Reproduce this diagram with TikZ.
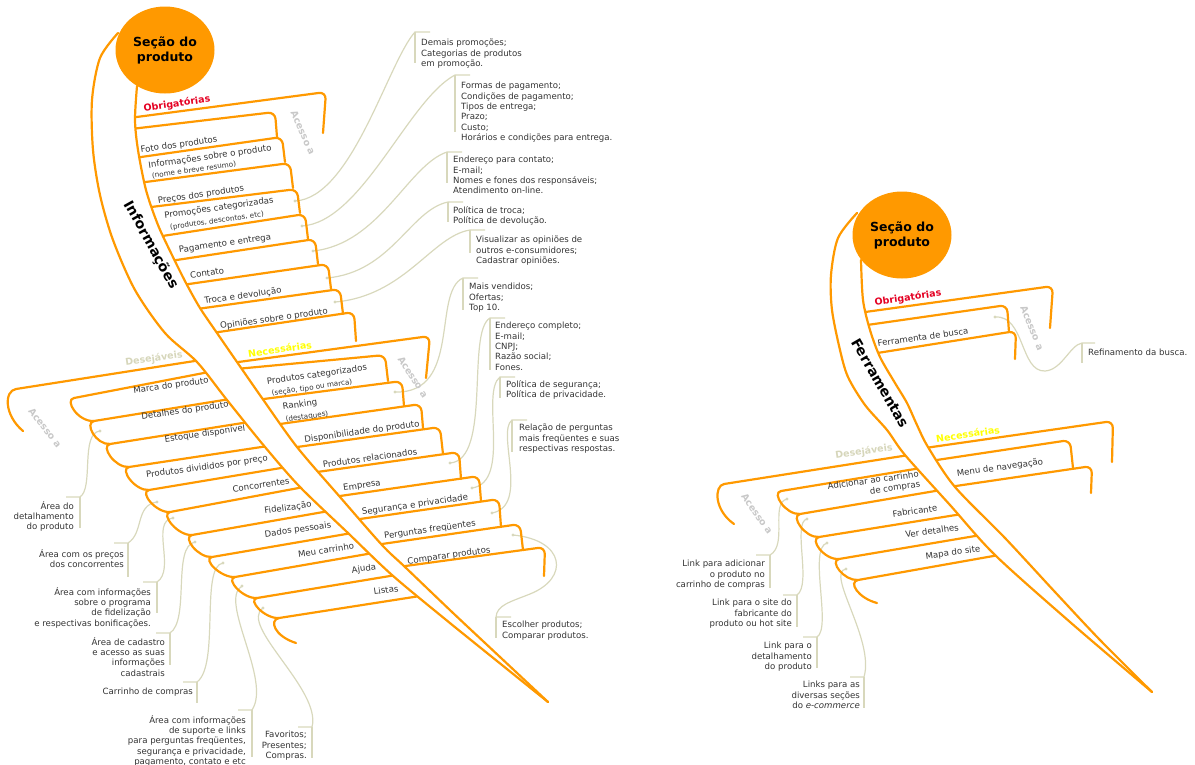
\documentclass[tikz,border=0pt]{standalone}
\usepackage{fontspec}
\setmainfont{DejaVu Sans}
\usepackage{tikz}
\usetikzlibrary{shapes.geometric}

\definecolor{laranja}{RGB}{255,153,0}
\definecolor{fiocor}{RGB}{216,216,188}
\definecolor{textocor}{RGB}{51,51,51}
\definecolor{obrigcor}{RGB}{228,0,34}
\definecolor{necescor}{RGB}{255,255,0}
\definecolor{desejcor}{RGB}{214,214,186}
\definecolor{acessocor}{RGB}{200,200,200}

\tikzset{
  secao/.style={ellipse, fill=laranja, minimum width=99pt, minimum height=87pt, inner sep=0pt, align=center, font=\fontsize{12.5}{15}\selectfont\bfseries},
  tronco/.style={draw=laranja, line width=2.2pt, line cap=round},
  ramo/.style={tronco, rounded corners=7pt},
  fio/.style={draw=fiocor, line width=1.2pt},
  ponto/.style={fill=fiocor},
  tema/.style={font=\fontsize{14}{16}\selectfont\bfseries, inner sep=0pt},
  grupo/.style={font=\fontsize{9.5}{11}\selectfont\bfseries, inner sep=0pt, rotate=8},
  acesso/.style={text=acessocor, font=\fontsize{9.5}{11}\selectfont\bfseries, inner sep=0pt},
  item/.style={text=textocor, font=\fontsize{8.6}{10.4}\selectfont, inner sep=0pt, rotate=8},
  subitem/.style={text=textocor, font=\fontsize{7.2}{8.5}\selectfont, inner sep=0pt, rotate=8},
  nota/.style={text=textocor, font=\fontsize{8.6}{10.4}\selectfont, inner sep=0pt, align=left, anchor=north west},
  notae/.style={nota, align=right, anchor=north east}
}

\begin{document}
\begin{tikzpicture}[x=1pt,y=-1pt]
\useasboundingbox (0,0) rectangle (1195,764);

\coordinate (p1) at (295,201);
\coordinate (p2) at (302,226);
\coordinate (p3) at (313,251);
\coordinate (p4) at (327,278);
\coordinate (p5) at (335,302);
\coordinate (p6) at (395,392);
\coordinate (p7) at (450,463);
\coordinate (p8) at (472,488);
\coordinate (p9) at (492,513);
\coordinate (p10) at (513,535);
\coordinate (p11) at (100,431);
\coordinate (p12) at (157,502);
\coordinate (p13) at (173,518);
\coordinate (p14) at (195,542);
\coordinate (p15) at (223,563);
\coordinate (p16) at (242,586);
\coordinate (p17) at (263,608);
\coordinate (p18) at (995,317);
\coordinate (p19) at (787,499);
\coordinate (p20) at (807,519);
\coordinate (p21) at (827,543);
\coordinate (p22) at (846,569);

\coordinate (t1) at (415,32);
\coordinate (t2) at (455,75);
\coordinate (t3) at (447,152);
\coordinate (t4) at (448,202);
\coordinate (t5) at (470,230);
\coordinate (t6) at (463,278);
\coordinate (t7) at (490,318);
\coordinate (t8) at (500,377);
\coordinate (t9) at (512,420);
\coordinate (t10) at (496,617);
\coordinate (t11) at (80,497);
\coordinate (t12) at (128,543);
\coordinate (t13) at (157,582);
\coordinate (t14) at (170,633);
\coordinate (t15) at (197,682);
\coordinate (t16) at (252,710);
\coordinate (t17) at (312,727);
\coordinate (t18) at (1082,343);
\coordinate (t19) at (770,555);
\coordinate (t20) at (797,595);
\coordinate (t21) at (817,637);
\coordinate (t22) at (864,677);

\draw[fio] (p1) .. controls (352,198) and (388,62) .. (t1) -- (430,32);
\draw[fio] (p2) .. controls (362,222) and (408,100) .. (t2) -- (470,75);
\draw[fio] (p3) .. controls (380,244) and (408,165) .. (t3) -- (462,152);
\draw[fio] (p4) .. controls (392,272) and (410,210) .. (t4) -- (463,202);
\draw[fio] (p5) .. controls (405,296) and (432,236) .. (t5) -- (485,230);
\draw[fio] (p6) .. controls (462,394) and (432,292) .. (t6) -- (478,278);
\draw[fio] (p7) .. controls (492,460) and (466,332) .. (t7) -- (505,318);
\draw[fio] (p8) .. controls (512,482) and (480,392) .. (t8) -- (515,377);
\draw[fio] (p9) .. controls (530,506) and (496,432) .. (t9) -- (527,420);
\draw[fio] (p10) .. controls (565,540) and (570,578) .. (530,594) .. controls (510,602) and (497,605) .. (t10) -- (511,617);
\draw[fio] (p11) .. controls (80,433) and (94,488) .. (t11) -- (66,497);
\draw[fio] (p12) .. controls (135,505) and (144,533) .. (t12) -- (114,543);
\draw[fio] (p13) .. controls (150,521) and (176,570) .. (t13) -- (143,582);
\draw[fio] (p14) .. controls (172,546) and (190,620) .. (t14) -- (156,633);
\draw[fio] (p15) .. controls (200,566) and (220,665) .. (t15) -- (183,682);
\draw[fio] (p16) .. controls (218,600) and (272,680) .. (t16) -- (238,710);
\draw[fio] (p17) .. controls (238,625) and (322,690) .. (t17) -- (298,727);
\draw[fio] (p18) .. controls (1025,315) and (1020,372) .. (1045,371) .. controls (1062,370) and (1070,345) .. (t18) -- (1095,343);
\draw[fio] (p19) .. controls (770,503) and (788,545) .. (t19) -- (756,555);
\draw[fio] (p20) .. controls (792,522) and (812,585) .. (t20) -- (783,595);
\draw[fio] (p21) .. controls (808,548) and (832,628) .. (t21) -- (803,637);
\draw[fio] (p22) .. controls (825,572) and (875,640) .. (t22) -- (850,677);

\draw[fio] (t1) -- (415,63);
\draw[fio] (t2) -- (455,132);
\draw[fio] (t3) -- (447,183);
\draw[fio] (t4) -- (448,222);
\draw[fio] (t5) -- (470,253);
\draw[fio] (t6) -- (463,310);
\draw[fio] (t7) -- (490,370);
\draw[fio] (t8) -- (500,398);
\draw[fio] (t9) -- (512,452);
\draw[fio] (t10) -- (496,638);
\draw[fio] (t11) -- (80,528);
\draw[fio] (t12) -- (128,577);
\draw[fio] (t13) -- (157,613);
\draw[fio] (t14) -- (170,665);
\draw[fio] (t15) -- (197,703);
\draw[fio] (t16) -- (252,757);
\draw[fio] (t17) -- (312,758);
\draw[fio] (t18) -- (1082,363);
\draw[fio] (t19) -- (770,588);
\draw[fio] (t20) -- (797,627);
\draw[fio] (t21) -- (817,668);
\draw[fio] (t22) -- (864,708);

\foreach \n in {1,...,22}
  \fill[ponto] (p\n) circle (1.6pt);

\draw[ramo] (129,118) -- (326,92) -- (323,133);
\draw[ramo] (131,129) -- (275,112) -- (277,137);
\draw[ramo] (134,158) -- (282,137) -- (285,162);
\draw[ramo] (138,183) -- (290,163) -- (293,188);
\draw[ramo] (143,208) -- (297,189) -- (300,213);
\draw[ramo] (156,237) -- (305,214) -- (308,239);
\draw[ramo] (170,261) -- (315,239) -- (318,264);
\draw[ramo] (182,285) -- (328,264) -- (331,289);
\draw[ramo] (197,309) -- (340,289) -- (343,314);
\draw[ramo] (212,333) -- (354,312) -- (356,341);

\draw[ramo] (231,363) -- (430,336) -- (426,378);
\draw[ramo] (236,369) -- (385,355) -- (388,381);
\draw[ramo] (256,400) -- (402,381) -- (404,406);
\draw[ramo] (273,425) -- (421,404) -- (423,428);
\draw[ramo] (290,448) -- (440,427) -- (443,454);
\draw[ramo] (310,473) -- (459,452) -- (461,479);
\draw[ramo] (333,497) -- (479,476) -- (481,501);
\draw[ramo] (353,520) -- (499,499) -- (501,527);
\draw[ramo] (375,545) -- (520,524) -- (523,550);
\draw[ramo] (398,567) -- (545,547) -- (544,576);

\draw[tronco] (201,360) -- (16,389) .. controls (4,391) and (4,415) .. (23,431);
\draw[tronco] (209,372) -- (74,398) .. controls (64,400) and (78,422) .. (94,421);
\draw[tronco] (230,399) -- (94,421) .. controls (84,423) and (96,445) .. (110,444);
\draw[tronco] (249,422) -- (110,444) .. controls (100,446) and (115,468) .. (129,467);
\draw[tronco] (268,446) -- (129,467) .. controls (119,469) and (135,491) .. (149,490);
\draw[tronco] (287,467) -- (149,490) .. controls (139,492) and (156,513) .. (170,512);
\draw[tronco] (304,487) -- (170,512) .. controls (160,514) and (178,536) .. (192,535);
\draw[tronco] (329,511) -- (192,535) .. controls (182,537) and (198,558) .. (212,557);
\draw[tronco] (352,533) -- (212,557) .. controls (202,559) and (221,578) .. (235,577);
\draw[tronco] (373,553) -- (235,577) .. controls (225,579) and (243,599) .. (257,598);
\draw[tronco] (396,575) -- (257,598) .. controls (247,600) and (265,619) .. (279,618);
\draw[tronco] (420,596) -- (279,618) .. controls (269,620) and (274,636) .. (296,643);

\draw[ramo] (858,313) -- (1053,286) -- (1050,328);
\draw[ramo] (860,326) -- (1007,305) -- (1009,332);
\draw[ramo] (871,354) -- (1016,331) -- (1015,359);
\draw[ramo] (925,448) -- (1113,421) -- (1112,462);
\draw[ramo] (930,461) -- (1070,440) -- (1073,468);
\draw[ramo] (949,487) -- (1092,466) -- (1091,493);

\draw[tronco] (909,455) -- (724,484) .. controls (714,486) and (714,510) .. (734,524);
\draw[tronco] (921,468) -- (781,491) .. controls (771,493) and (786,515) .. (800,514);
\draw[tronco] (941,490) -- (800,514) .. controls (790,516) and (805,538) .. (819,537);
\draw[tronco] (962,514) -- (819,537) .. controls (809,539) and (824,560) .. (839,559);
\draw[tronco] (981,535) -- (839,559) .. controls (829,561) and (844,581) .. (858,580);
\draw[tronco] (999,555) -- (858,580) .. controls (848,582) and (858,598) .. (877,603);

\fill[white] plot[smooth] coordinates {(118,33) (100,58) (92,100) (93,150) (100,195) (113,240) (135,290) (165,333) (197,362) (227,400) (265,447) (300,487) (348,533) (392,575) (445,619) (497,661) (548,702)}
  -- plot[smooth] coordinates {(548,702) (500,657) (452,612) (405,567) (382,545) (340,497) (297,447) (262,398) (237,362) (217,333) (200,308) (186,283) (172,255) (158,225) (146,190) (138,150) (135,120) (137,86)} -- cycle;
\draw[tronco] plot[smooth] coordinates {(118,33) (100,58) (92,100) (93,150) (100,195) (113,240) (135,290) (165,333) (197,362) (227,400) (265,447) (300,487) (348,533) (392,575) (445,619) (497,661) (548,702)};
\draw[tronco] plot[smooth] coordinates {(137,86) (135,120) (138,150) (146,190) (158,225) (172,255) (186,283) (200,308) (217,333) (237,362) (262,398) (297,447) (340,497) (382,545) (405,567) (452,612) (500,657) (548,702)};

\fill[white] plot[smooth] coordinates {(857,213) (838,238) (831,275) (832,310) (840,350) (848,377) (865,405) (887,430) (905,455) (950,505) (995,555) (1070,622) (1152,692)}
  -- plot[smooth] coordinates {(1152,692) (1100,640) (1055,592) (1005,538) (955,487) (928,447) (917,425) (907,403) (895,383) (880,357) (870,330) (863,300) (861,260)} -- cycle;
\draw[tronco] plot[smooth] coordinates {(857,213) (838,238) (831,275) (832,310) (840,350) (848,377) (865,405) (887,430) (905,455) (950,505) (995,555) (1070,622) (1152,692)};
\draw[tronco] plot[smooth] coordinates {(861,260) (863,300) (870,330) (880,357) (895,383) (907,403) (917,425) (928,447) (955,487) (1005,538) (1055,592) (1100,640) (1152,692)};

\node[secao] (sec1) at (165,50) {Seção do\\produto};
\node[secao] (sec2) at (902,235) {Seção do\\produto};

\node[tema, rotate=-61] (info) at (151,245) {Informações};
\node[tema, rotate=-60] (ferr) at (880,383) {Ferramentas};

\node[grupo, text=obrigcor] (obr1) at (177,104) {Obrigatórias};
\node[acesso, rotate=-66] (ac1) at (303,133) {Acesso a};
\node[item] (foto) at (179,145) {Foto dos produtos};
\node[item] (infprod) at (210,157) {Informações sobre o produto};
\node[subitem] (infprod2) at (194,170) {(nome e breve resumo)};
\node[item] (precos) at (201,195) {Preços dos produtos};
\node[item] (promo) at (219,208) {Promoções categorizadas};
\node[subitem] (promo2) at (217,221) {(produtos, descontos, etc)};
\node[item] (pagam) at (225,244) {Pagamento e entrega};
\node[item] (contato) at (207,273) {Contato};
\node[item] (troca) at (243,296) {Troca e devolução};
\node[item] (opin) at (274,319) {Opiniões sobre o produto};

\node[grupo, text=necescor] (nec1) at (280,349) {Necessárias};
\node[acesso, rotate=-57] (ac2) at (413,377) {Acesso a};
\node[item] (prodcat) at (317,375) {Produtos categorizados};
\node[subitem] (prodcat2) at (312,388) {(seção, tipo ou marca)};
\node[item] (ranking) at (300,405) {Ranking};
\node[subitem] (ranking2) at (307,417) {(destaques)};
\node[item] (dispon) at (362,432) {Disponibilidade do produto};
\node[item] (prodrel) at (370,458) {Produtos relacionados};
\node[item] (empresa) at (362,486) {Empresa};
\node[item] (segur) at (415,505) {Segurança e privacidade};
\node[item] (pergun) at (430,530) {Perguntas freqüentes};
\node[item] (compar) at (449,556) {Comparar produtos};

\node[grupo, text=desejcor] (des1) at (154,359) {Desejáveis};
\node[acesso, rotate=-52] (ac3) at (45,428) {Acesso a};
\node[item] (marca) at (171,386) {Marca do produto};
\node[item] (detal) at (185,411) {Detalhes do produto};
\node[item] (estoq) at (205,434) {Estoque disponível};
\node[item] (divid) at (207,467) {Produtos divididos por preço};
\node[item] (concor) at (261,485) {Concorrentes};
\node[item] (fidel) at (288,508) {Fidelização};
\node[item] (dados) at (298,530) {Dados pessoais};
\node[item] (carr) at (326,550) {Meu carrinho};
\node[item] (ajuda) at (364,569) {Ajuda};
\node[item] (listas) at (386,590) {Listas};

\node[grupo, text=obrigcor] (obr2) at (908,298) {Obrigatórias};
\node[acesso, rotate=-68] (ac4) at (1032,328) {Acesso a};
\node[item] (busca) at (923,337) {Ferramenta de busca};
\node[grupo, text=necescor] (nec2) at (968,434) {Necessárias};
\node[item] (menu) at (1000,468) {Menu de navegação};
\node[grupo, text=desejcor] (des2) at (864,452) {Desejáveis};
\node[acesso, rotate=-55] (ac5) at (757,514) {Acesso a};
\node[item, align=right] (adic) at (874,486) {Adicionar ao carrinho\\de compras};
\node[item] (fabric) at (915,511) {Fabricante};
\node[item] (verdet) at (932,531) {Ver detalhes};
\node[item] (mapa) at (953,553) {Mapa do site};

\node[nota] (n1) at (421,39) {Demais promoções;\\Categorias de produtos\\em promoção.};
\node[nota] (n2) at (461,82) {Formas de pagamento;\\Condições de pagamento;\\Tipos de entrega;\\Prazo;\\Custo;\\Horários e condições para entrega.};
\node[nota] (n3) at (453,156) {Endereço para contato;\\E-mail;\\Nomes e fones dos responsáveis;\\Atendimento on-line.};
\node[nota] (n4) at (453,206) {Política de troca;\\Política de devolução.};
\node[nota] (n5) at (476,236) {Visualizar as opiniões de\\outros e-consumidores;\\Cadastrar opiniões.};
\node[nota] (n6) at (469,283) {Mais vendidos;\\Ofertas;\\Top 10.};
\node[nota] (n7) at (495,322) {Endereço completo;\\E-mail;\\CNPJ;\\Razão social;\\Fones.};
\node[nota] (n8) at (506,380) {Política de segurança;\\Política de privacidade.};
\node[nota] (n9) at (519,424) {Relação de perguntas\\mais freqüentes e suas\\respectivas respostas.};
\node[nota] (n10) at (502,621) {Escolher produtos;\\Comparar produtos.};

\node[notae] (m1) at (74,501) {Área do\\detalhamento\\do produto};
\node[notae] (m2) at (124,549) {Área com os preços\\dos concorrentes};
\node[notae] (m3) at (151,587) {Área com informações\\sobre o programa\\de fidelização\\e respectivas bonificações.};
\node[notae] (m4) at (165,637) {Área de cadastro\\e acesso as suas\\informações\\cadastrais};
\node[notae] (m5) at (193,688) {Carrinho de compras};
\node[notae] (m6) at (246,715) {Área com informações\\de suporte e links\\para perguntas freqüentes,\\segurança e privacidade,\\pagamento, contato e etc};
\node[notae] (m7) at (307,731) {Favoritos;\\Presentes;\\Compras.};

\node[nota] (f1) at (1088,349) {Refinamento da busca.};
\node[notae] (f2) at (765,560) {Link para adicionar\\o produto no\\carrinho de compras};
\node[notae] (f3) at (792,599) {Link para o site do\\fabricante do\\produto ou hot site};
\node[notae] (f4) at (812,642) {Link para o\\detalhamento\\do produto};
\node[notae] (f5) at (860,681) {Links para as\\diversas seções\\do \textit{e-commerce}};
\end{tikzpicture}
\end{document}
